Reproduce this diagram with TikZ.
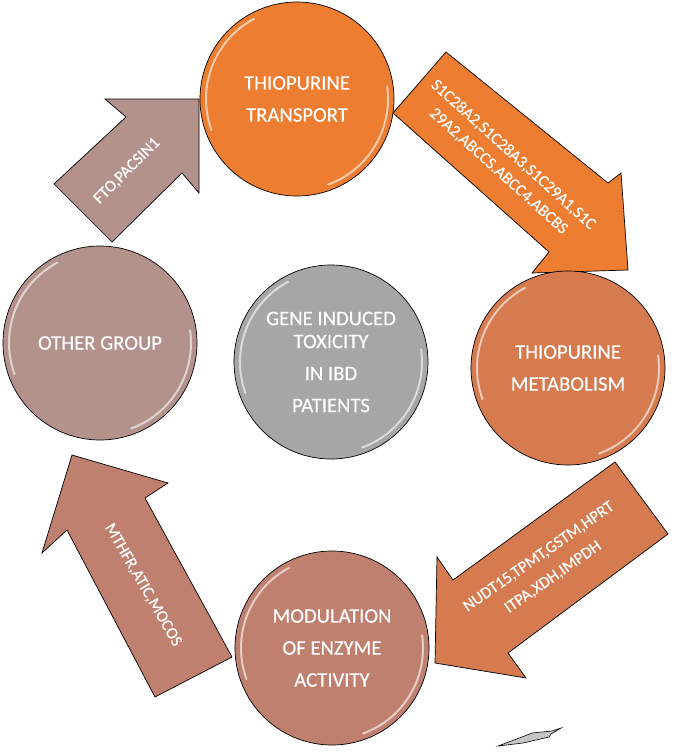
\documentclass[tikz,border=0pt]{standalone}
\usepackage{fontspec}
\setmainfont{Carlito}[FakeBold=0.3]
\usetikzlibrary{calc}
\definecolor{TransOrange}{HTML}{ED7D31}
\definecolor{MetaOrange}{HTML}{D67B4F}
\definecolor{ModSalmon}{HTML}{C08070}
\definecolor{OtherMauve}{HTML}{B4928C}
\definecolor{GeneGray}{HTML}{A6A6A6}

\begin{document}
\begin{tikzpicture}[x=1pt,y=-1pt,
    ball/.style={circle,draw=black,line width=0.7pt,minimum size=194pt,inner sep=0pt,
      text=white,align=center,font=\fontsize{20.7}{32}\selectfont},
    block/.style={draw=black,line width=0.7pt,line join=miter},
    genes/.style={text=white,align=center,font=\fontsize{16.5}{22}\selectfont},
    gloss/.style={white,opacity=0.6,line width=2pt,line cap=round}]
  \useasboundingbox (0,0) rectangle (685,752);

  % block arrows
  \path[block,fill=OtherMauve] (54,184) -- (126,117) -- (105,99) -- (199,99)
    -- (199,193) -- (182,173) -- (112,242) -- cycle;
  \path[block,fill=TransOrange] (393,113) -- (446,52) -- (608,183) -- (621,173)
    -- (628,270) -- (532,273) -- (549,252) -- cycle;
  \path[block,fill=MetaOrange] (615,462) -- (668,534) -- (508,653) -- (526,678)
    -- (435,663) -- (437,557) -- (453,580) -- cycle;
  \path[block,fill=ModSalmon] (72,455) -- (168,483) -- (145,498) -- (232,657)
    -- (155,697) -- (67,530) -- (42,553) -- cycle;

  % circles
  \node[ball,fill=TransOrange] (Transport) at (297,99) {THIOPURINE\\TRANSPORT};
  \node[ball,fill=MetaOrange] (Metabolism) at (568,368) {THIOPURINE\\METABOLISM};
  \node[ball,fill=ModSalmon] (Modulation) at (332,648) {MODULATION\\OF ENZYME\\ACTIVITY};
  \node[ball,fill=OtherMauve] (Other) at (100,343) {OTHER GROUP};
  \node[ball,fill=GeneGray] (Gene) at (331,362) {GENE INDUCED\\[-9pt]TOXICITY\\IN IBD\\PATIENTS};

  \foreach \n in {Transport,Metabolism,Modulation,Other,Gene} {
    \draw[gloss] ($(\n.center)+(118:91pt)$) arc[start angle=118, end angle=200, radius=91pt];
    \draw[gloss] ($(\n.center)+(-70:91pt)$) arc[start angle=-70, end angle=8, radius=91pt];
  }

  % gene labels
  \node[genes,rotate=45] (FtoText) at (127,171) {FTO,PACSIN1};
  \node[genes,rotate=-42] (TransText) at (506,163)
    {S1C28A2,S1C28A3,S1C29A1,S1C\\29A2,ABCCS.ABCC4.ABCBS};
  \node[genes,rotate=35] (NudtText) at (546,567)
    {NUDT15,TPMT,GSTM,HPRT\\[3pt]ITPA,XDH,IMPDH};
  \node[genes,rotate=-60] (MthfrText) at (143,585) {MTHFR,ATIC,MOCOS};

  % stray sliver
  \path[draw=black,fill=gray!45,line width=0.6pt] (498,746) -- (522,737) -- (532,733)
    -- (552,731) -- (561,728) -- (551,734) -- (549,737) -- (523,743) -- cycle;
\end{tikzpicture}
\end{document}
